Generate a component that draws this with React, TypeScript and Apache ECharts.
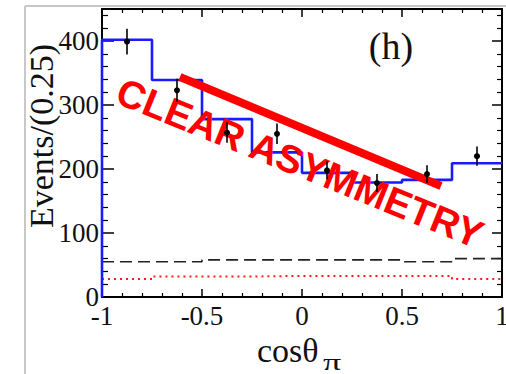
import React, { useEffect, useRef } from "react";
import * as echarts from "echarts";

// ---- data ----
const binEdges = [-1, -0.75, -0.5, -0.25, 0, 0.25, 0.5, 0.75, 1];
const binCenters = [-0.875, -0.625, -0.375, -0.125, 0.125, 0.375, 0.625, 0.875];
const fitValues = [402, 339, 278, 226, 194, 179, 183, 209];
const dataValues = [399, 323, 257, 255, 198, 178, 192, 220];
const dataErrors = [20, 18, 16, 16, 14, 14, 14, 15];
const bkgDashed = [55, 55, 58, 58, 58, 58, 55, 60];
const bkgDotted = [28, 32, 32, 33, 33, 33, 33, 28];
const yTickLabels = [0, 100, 200, 300, 400];
const xTickLabels = [-1, -0.5, 0, 0.5, 1];
const panelTag = "(h)";
const yAxisTitle = "Events/(0.25)";
const xAxisTitleMain = "cosθ";
const xAxisTitleSub = "π";
const stampText = "CLEAR ASYMMETRY";

function stepPoints(vals: number[], fromZero: boolean) {
  const pts: number[][] = [];
  if (fromZero) pts.push([binEdges[0], 0]);
  vals.forEach((v, i) => pts.push([binEdges[i], v]));
  pts.push([binEdges[binEdges.length - 1], vals[vals.length - 1]]);
  return pts;
}

const SERIF = "Liberation Serif";

export default function App() {
  const ref = useRef<HTMLDivElement>(null);
  useEffect(() => {
    if (!ref.current) return;
    const chart = echarts.init(ref.current, null, { renderer: "svg" });
    const fmtX = (v: number) => (xTickLabels.indexOf(v) >= 0 ? String(v) : "");
    const fmtY = (v: number) => (yTickLabels.indexOf(v) >= 0 ? String(v) : "");
    chart.setOption({
      animation: false,
      backgroundColor: "#ffffff",
      grid: { left: 102, right: 4, top: 9, bottom: 77, containLabel: false, outerBoundsMode: "none" },
      xAxis: [
        {
          type: "value", min: -1, max: 1, interval: 0.5, position: "bottom",
          axisLine: { show: true, onZero: false, lineStyle: { color: "#000", width: 2 } },
          axisTick: { show: true, inside: true, length: 8, lineStyle: { color: "#000", width: 1.5 } },
          minorTick: { show: true, splitNumber: 5, length: 4, lineStyle: { color: "#000", width: 1.2 } },
          splitLine: { show: false },
          axisLabel: { show: true, margin: 10, lineHeight: 18, color: "#111", fontFamily: SERIF, fontSize: 27, formatter: fmtX, hideOverlap: false },
        },
        {
          type: "value", min: -1, max: 1, interval: 0.5, position: "top",
          axisLine: { show: true, onZero: false, lineStyle: { color: "#000", width: 2 } },
          axisTick: { show: true, inside: true, length: 8, lineStyle: { color: "#000", width: 1.5 } },
          minorTick: { show: true, splitNumber: 5, length: 4, lineStyle: { color: "#000", width: 1.2 } },
          splitLine: { show: false },
          axisLabel: { show: false },
        },
      ],
      yAxis: [
        {
          type: "value", min: 0, max: 450, interval: 100, position: "left",
          axisLine: { show: true, onZero: false, lineStyle: { color: "#000", width: 2 } },
          axisTick: { show: true, inside: true, length: 12, lineStyle: { color: "#000", width: 1.5 } },
          minorTick: { show: true, splitNumber: 5, length: 6, lineStyle: { color: "#000", width: 1.2 } },
          splitLine: { show: false },
          axisLabel: { show: true, margin: 3, lineHeight: 18, color: "#111", fontFamily: SERIF, fontSize: 27, formatter: fmtY },
        },
        {
          type: "value", min: 0, max: 450, interval: 100, position: "right",
          axisLine: { show: true, onZero: false, lineStyle: { color: "#000", width: 2 } },
          axisTick: { show: true, inside: true, length: 10, lineStyle: { color: "#000", width: 1.5 } },
          minorTick: { show: true, splitNumber: 5, length: 5, lineStyle: { color: "#000", width: 1.2 } },
          splitLine: { show: false },
          axisLabel: { show: false },
        },
      ],
      series: [
        {
          type: "line", xAxisIndex: 0, yAxisIndex: 0, step: "end", showSymbol: false, z: 2,
          data: stepPoints(bkgDotted, false),
          lineStyle: { color: "#ff1a1a", width: 2, type: [2, 4] },
        },
        {
          type: "line", xAxisIndex: 0, yAxisIndex: 0, step: "end", showSymbol: false, z: 2,
          data: stepPoints(bkgDashed, false),
          lineStyle: { color: "#222", width: 1.6, type: [12, 6] },
        },
        {
          type: "line", xAxisIndex: 0, yAxisIndex: 0, step: "end", showSymbol: false, z: 3,
          data: stepPoints(fitValues, true),
          lineStyle: { color: "#1a1aff", width: 2.6 },
        },
        {
          type: "custom", xAxisIndex: 0, yAxisIndex: 0, z: 20,
          data: binCenters.map((x, i) => [x, dataValues[i], dataErrors[i]]),
          renderItem: (params: any, api: any) => {
            const x = api.value(0), y = api.value(1), e = api.value(2);
            const p = api.coord([x, y]);
            const lo = api.coord([x, y - e]);
            const hi = api.coord([x, y + e]);
            return {
              type: "group",
              children: [
                { type: "line", shape: { x1: lo[0], y1: lo[1], x2: hi[0], y2: hi[1] }, style: { stroke: "#000", lineWidth: 1.6 } },
                { type: "circle", shape: { cx: p[0], cy: p[1], r: 3 }, style: { fill: "#000" } },
              ],
            };
          },
        },
      ],
      graphic: [
        { type: "line", z: 1, shape: { x1: 25, y1: 6, x2: 506, y2: 6 }, style: { stroke: "#c8c8c8", lineWidth: 2 } },
        { type: "line", z: 1, shape: { x1: 25, y1: 6, x2: 25, y2: 374 }, style: { stroke: "#c8c8c8", lineWidth: 2 } },
        {
          type: "text", z: 5, x: 391, y: 46,
          style: { text: panelTag, fill: "#111", font: `38px "${SERIF}"`, textAlign: "center", textVerticalAlign: "middle" },
        },
        {
          type: "text", z: 5, x: 41, y: 136, rotation: Math.PI / 2,
          style: { text: yAxisTitle, fill: "#111", font: `34px "${SERIF}"`, textAlign: "center", textVerticalAlign: "middle" },
        },
        {
          type: "text", z: 5, x: 257, y: 350,
          style: { text: xAxisTitleMain, fill: "#111", font: `34px "${SERIF}"`, textAlign: "left", textVerticalAlign: "middle" },
        },
        {
          type: "text", z: 5, x: 323, y: 362, scaleX: 1.5,
          style: { text: xAxisTitleSub, fill: "#111", font: `24px "${SERIF}"`, textAlign: "left", textVerticalAlign: "middle" },
        },
        {
          type: "text", z: 10, x: 300, y: 163, rotation: -22 * Math.PI / 180,
          style: { text: stampText, fill: "#ff0000", font: `bold 39px "Liberation Sans"`, textAlign: "center", textVerticalAlign: "middle" },
        },
        {
          type: "line", z: 10, shape: { x1: 180, y1: 77, x2: 441, y2: 186 },
          style: { stroke: "#ff0000", lineWidth: 8 },
        },
      ],
    });
    return () => chart.dispose();
  }, []);
  return (
    <div
      ref={ref}
      style={{ position: "absolute", left: 0, top: 0, width: 506, height: 374, background: "#fff" }}
    />
  );
}
